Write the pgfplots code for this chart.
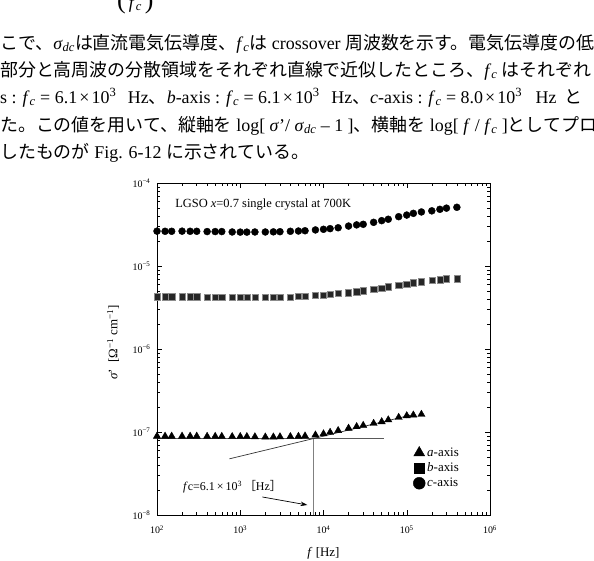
\documentclass[border=0pt]{standalone}
\usepackage{fontspec}
\setmainfont{Liberation Serif}
\newfontfamily\jp{Noto Sans CJK JP}
\usepackage{pgfplots}
\pgfplotsset{compat=1.18}
\usetikzlibrary{arrows.meta}
\newcommand\J[1]{{\jp #1}}
\newcommand\fc{\textit{f}\textsubscript{\textit{c}}}
\newcommand\sdc{\textit{σ}\textsubscript{\textit{dc}}}
\newcommand\X{\makebox[0.8em]{×}}

\pgfplotstableread{
f c b
100 2.63e-5 4.27e-6
125 2.62e-5 4.27e-6
150 2.62e-5 4.26e-6
200 2.63e-5 4.27e-6
250 2.62e-5 4.26e-6
300 2.62e-5 4.26e-6
400 2.60e-5 4.25e-6
500 2.60e-5 4.25e-6
600 2.60e-5 4.24e-6
800 2.57e-5 4.22e-6
1000 2.56e-5 4.22e-6
1200 2.56e-5 4.21e-6
1500 2.57e-5 4.20e-6
2000 2.57e-5 4.20e-6
2500 2.58e-5 4.21e-6
3000 2.59e-5 4.22e-6
4000 2.62e-5 4.25e-6
5000 2.64e-5 4.30e-6
6000 2.66e-5 4.35e-6
8000 2.72e-5 4.43e-6
10000 2.77e-5 4.50e-6
12000 2.82e-5 4.56e-6
15000 2.89e-5 4.66e-6
20000 3.03e-5 4.77e-6
25000 3.13e-5 4.90e-6
30000 3.18e-5 5.04e-6
40000 3.36e-5 5.24e-6
50000 3.52e-5 5.38e-6
60000 3.66e-5 5.63e-6
80000 3.93e-5 5.91e-6
100000 4.11e-5 6.07e-6
120000 4.31e-5 6.29e-6
150000 4.48e-5 6.48e-6
200000 4.62e-5 6.73e-6
250000 4.82e-5 6.84e-6
300000 4.98e-5 7.03e-6
400000 5.10e-5 7.03e-6
}\dataBC

\pgfplotstableread{
f a
100 8.9e-8
125 8.9e-8
150 8.9e-8
200 8.9e-8
250 8.9e-8
300 8.9e-8
400 8.85e-8
500 8.85e-8
600 8.85e-8
800 8.8e-8
1000 8.8e-8
1200 8.8e-8
1500 8.75e-8
2000 8.7e-8
2500 8.7e-8
3000 8.75e-8
4000 8.8e-8
5000 8.85e-8
6000 8.95e-8
8000 9.2e-8
10000 9.5e-8
12000 9.9e-8
15000 1.04e-7
20000 1.11e-7
25000 1.16e-7
30000 1.20e-7
40000 1.27e-7
50000 1.33e-7
60000 1.40e-7
80000 1.50e-7
100000 1.57e-7
120000 1.60e-7
150000 1.63e-7
}\dataA

\begin{document}
\begin{tikzpicture}
\useasboundingbox (0,0) rectangle (594bp,-561bp);
\clip (0,0) rectangle (594bp,-561bp);
\begin{scope}[every node/.style={anchor=base west, inner sep=0pt, font=\fontsize{18}{22}\selectfont}]
\node at (117bp,-8bp) {{\fontsize{26}{26}\selectfont(}\,\fc\,{\fontsize{26}{26}\selectfont)}};
\node at (0bp,-49bp) {\J{こで、}\sdc\J{は直流電気伝導度、}\fc\J{は} crossover \J{周波数を示す。電気伝導度の低}};
\node at (0bp,-76bp) {\J{部分と高周波の分散領域をそれぞれ直線で近似したところ、}\fc{} \J{はそれぞれ}};
\node at (0bp,-103bp) {s : \fc{} = 6.1\X10\textsuperscript{3}\hspace{0.65em}Hz\J{、}\textit{b}-axis : \fc{} = 6.1\X10\textsuperscript{3}\hspace{0.65em}Hz\J{、}\textit{c}-axis : \fc{} = 8.0\X10\textsuperscript{3}\hspace{0.75em}Hz\hspace{0.45em}\J{と}};
\node at (0bp,-131bp) {\J{た。この値を用いて、縦軸を} log[ \textit{σ}’/ \sdc{} – 1 ]\J{、横軸を} log[ \textit{f} / \fc{} ]\J{としてプロ}};
\node at (0bp,-158bp) {\J{したものが} Fig. 6-12 \J{に示されている。}};
\end{scope}

\begin{axis}[
  at={(157bp,-515bp)}, anchor=south west,
  scale only axis, width=333bp, height=332bp,
  xmode=log, ymode=log,
  xmin=1e2, xmax=1e6, ymin=1e-8, ymax=1e-4,
  axis line style={line width=0.6pt},
  tick align=inside,
  major tick length=5bp, minor tick length=3bp,
  every tick/.style={black, line width=0.5pt},
  xtick={1e2,1e3,1e4,1e5,1e6},
  xticklabels={10\textsuperscript{2},10\textsuperscript{3},10\textsuperscript{4},10\textsuperscript{5},10\textsuperscript{6}},
  ytick={1e-8,1e-7,1e-6,1e-5,1e-4},
  yticklabels={10\textsuperscript{−8},10\textsuperscript{−7},10\textsuperscript{−6},10\textsuperscript{−5},10\textsuperscript{−4}},
  ticklabel style={font=\fontsize{10}{11}\selectfont},
  xticklabel style={yshift=-7bp},
  yticklabel style={xshift=-3bp},
  xlabel={\textit{f} [Hz]},
  ylabel={\textit{σ}’\enspace[Ω\textsuperscript{−1} cm\textsuperscript{−1}]},
  label style={font=\fontsize{13}{14}\selectfont},
  xlabel style={at={(axis description cs:0.5,-0.1145)}, anchor=center},
  ylabel style={at={(axis description cs:-0.132,0.52)}, anchor=center, rotate=0},
  legend style={draw=none, fill=none, at={(axis description cs:0.76,0.1416)}, anchor=west,
    font=\fontsize{13}{14}\selectfont, row sep=1bp},
  legend cell align=left,
]
\addplot[only marks, mark=*, mark size=3.5pt, black, forget plot] table[x=f, y=c] {\dataBC};
\addplot[only marks, mark=square*, mark size=3.1pt, draw=black!45, fill=black!85, forget plot] table[x=f, y=b] {\dataBC};
\addplot[only marks, mark=triangle*, mark size=4.2pt, black, forget plot] table[x=f, y=a] {\dataA};

\draw[black!65, line width=0.7pt] (axis cs:100,8.5e-8) -- (axis cs:5.3e4,8.5e-8);
\draw[black!50, line width=1pt] (axis cs:7.5e3,8.5e-8) -- (axis cs:7.5e3,1e-8);
\draw[black!80, line width=0.7pt, -{Stealth[length=5pt,width=4pt]}] (axis cs:740,4.75e-8) -- (axis cs:1.12e5,1.6e-7);
\draw[black, line width=0.7pt, -{Stealth[length=7pt,width=4.5pt]}] (axis cs:1841,1.65e-8) -- (axis cs:6410,1.32e-8);

\node[anchor=west, inner sep=0pt, font=\fontsize{12.5}{14}\selectfont] at (axis cs:165,5.43e-5) {LGSO \textit{x}=0.7 single crystal at 700K};
\node[anchor=west, inner sep=0pt, font=\fontsize{12}{14}\selectfont] at (axis cs:205,2.17e-8) {\textit{f}c=6.1\,×\,10\textsuperscript{3}\,\J{［}Hz\J{］}};

\addlegendimage{only marks, mark=triangle*, mark size=6.3pt, black}
\addlegendentry{\textit{a}-axis}
\addlegendimage{only marks, mark=square*, mark size=5pt, black}
\addlegendentry{\textit{b}-axis}
\addlegendimage{only marks, mark=*, mark size=6pt, black}
\addlegendentry{\textit{c}-axis}
\end{axis}
\end{tikzpicture}
\end{document}
